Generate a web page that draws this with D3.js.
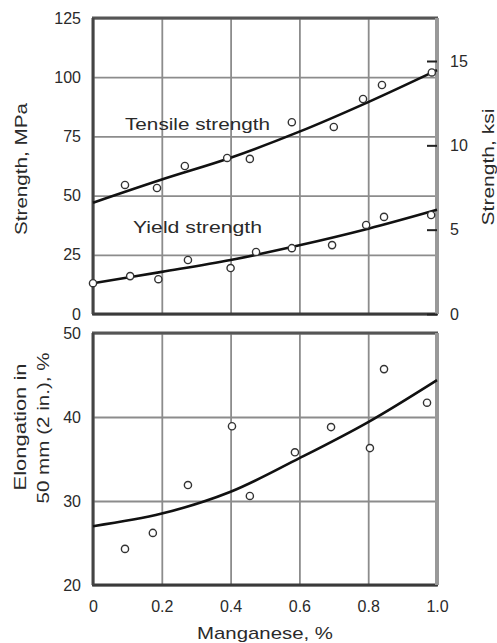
<!DOCTYPE html>
<html>
<head>
<meta charset="utf-8">
<script src="https://cdn.jsdelivr.net/npm/d3@7"></script>
<style>
  html, body { margin: 0; padding: 0; background: #fff; }
  svg { display: block; }
  text { font-family: "Liberation Sans", Arial, Helvetica, sans-serif; fill: #2a2a2a; }
</style>
</head>
<body>
<svg id="chart" width="497" height="643"></svg>
<script>
// ---- Data ----
const xTicks = [0, 0.2, 0.4, 0.6, 0.8, 1.0];
const xTickLabels = ["0", "0.2", "0.4", "0.6", "0.8", "1.0"];
const strengthTicks = [0, 25, 50, 75, 100, 125];
const ksiTicks = [0, 5, 10, 15];
const elongTicks = [20, 30, 40, 50];

// Tensile strength measurements (Mn %, MPa)
const tensileMn  = [0.093, 0.186, 0.267, 0.39, 0.456, 0.578, 0.70, 0.785, 0.84, 0.985];
const tensileMPa = [54.5, 53.2, 62.5, 65.9, 65.5, 81, 79, 90.8, 96.7, 102];
// Tensile fit curve
const tensileFitMn  = [0, 0.2, 0.4, 0.6, 0.8, 1.0];
const tensileFitMPa = [47, 56.8, 66, 77, 89.5, 103];

// Yield strength measurements
const yieldMn  = [0, 0.108, 0.19, 0.276, 0.40, 0.474, 0.578, 0.695, 0.794, 0.846, 0.983];
const yieldMPa = [13, 16, 14.7, 22.8, 19.4, 26.2, 27.8, 29.1, 37.6, 41, 41.8];
// Yield fit curve
const yieldFitMn  = [0, 0.2, 0.4, 0.6, 0.8, 1.0];
const yieldFitMPa = [13, 17.8, 22.8, 29, 36, 44];

// Elongation measurements
const elongMn  = [0.093, 0.174, 0.276, 0.404, 0.456, 0.587, 0.692, 0.805, 0.846, 0.971];
const elongPct = [24.3, 26.2, 31.9, 38.9, 30.6, 35.8, 38.8, 36.3, 45.7, 41.7];
// Elongation fit curve
const elongFitMn  = [0, 0.2, 0.4, 0.6, 0.8, 1.0];
const elongFitPct = [27.0, 28.5, 31.1, 35.1, 39.4, 44.4];

// ---- Layout ----
const L = 93, R = 437;
const topT = 18, topB = 314;
const botT = 333, botB = 585;

const svg = d3.select("#chart");

const x = d3.scaleLinear().domain([0, 1]).range([L, R]);
const yTop = d3.scaleLinear().domain([0, 125]).range([topB, topT]);
const yKsi = d3.scaleLinear().domain([0, 17.55]).range([topB, topT]);
const yBot = d3.scaleLinear().domain([20, 50]).range([botB, botT]);

const gridColor = "#8c8c8c";

function panel(yScale, yTicks, top, bottom) {
  // horizontal grid
  const gy = svg.append("g")
    .attr("transform", `translate(${L},0)`)
    .call(d3.axisLeft(yScale).tickValues(yTicks).tickSize(-(R - L)).tickFormat(""));
  gy.select(".domain").remove();
  gy.selectAll("line").attr("stroke", gridColor).attr("stroke-width", 1.8);
  // vertical grid
  const gx = svg.append("g")
    .attr("transform", `translate(0,${bottom})`)
    .call(d3.axisBottom(x).tickValues(xTicks).tickSize(-(bottom - top)).tickFormat(""));
  gx.select(".domain").remove();
  gx.selectAll("line").attr("stroke", gridColor).attr("stroke-width", 1.8);
  // frame
  svg.append("line").attr("x1", L - 1).attr("x2", R + 1).attr("y1", top).attr("y2", top)
    .attr("stroke", "#555").attr("stroke-width", 3);
  svg.append("line").attr("x1", L - 1).attr("x2", R + 1).attr("y1", bottom).attr("y2", bottom)
    .attr("stroke", "#3a3a3a").attr("stroke-width", 3);
  svg.append("line").attr("x1", L).attr("x2", L).attr("y1", top).attr("y2", bottom)
    .attr("stroke", "#444").attr("stroke-width", 3);
  svg.append("line").attr("x1", R).attr("x2", R).attr("y1", top).attr("y2", bottom)
    .attr("stroke", "#999").attr("stroke-width", 4);
  // left labels
  const al = svg.append("g")
    .attr("transform", `translate(${L},0)`)
    .call(d3.axisLeft(yScale).tickValues(yTicks).tickSize(0).tickPadding(12));
  al.select(".domain").remove();
  al.selectAll("text").style("font-size", "16px").attr("fill", "#2a2a2a");
}

panel(yTop, strengthTicks, topT, topB);
panel(yBot, elongTicks, botT, botB);

// right ksi axis
const ar = svg.append("g")
  .attr("transform", `translate(${R},0)`)
  .call(d3.axisRight(yKsi).tickValues(ksiTicks).tickSizeInner(-10).tickSizeOuter(0).tickPadding(13));
ar.select(".domain").remove();
ar.selectAll("line").attr("stroke", "#222").attr("stroke-width", 2);
ar.selectAll("text").style("font-size", "16px").attr("fill", "#2a2a2a");

// bottom x axis labels
const ax = svg.append("g")
  .attr("transform", `translate(0,${botB})`)
  .call(d3.axisBottom(x).tickValues(xTicks).tickSize(0).tickPadding(16)
    .tickFormat((d, i) => xTickLabels[i]));
ax.select(".domain").remove();
ax.selectAll("text").style("font-size", "16px").attr("fill", "#2a2a2a");

// curves
function fitLine(xs, ys, yScale) {
  const pts = xs.map((v, i) => [v, ys[i]]);
  svg.append("path")
    .datum(pts)
    .attr("fill", "none")
    .attr("stroke", "#111")
    .attr("stroke-width", 2.6)
    .attr("d", d3.line().x(d => x(d[0])).y(d => yScale(d[1])).curve(d3.curveCatmullRom)(pts));
}
function markers(xs, ys, yScale) {
  svg.append("g").selectAll("circle")
    .data(xs.map((v, i) => [v, ys[i]]))
    .join("circle")
    .attr("cx", d => x(d[0]))
    .attr("cy", d => yScale(d[1]))
    .attr("r", 3.6)
    .attr("fill", "#fff")
    .attr("stroke", "#333")
    .attr("stroke-width", 1.4);
}

fitLine(tensileFitMn, tensileFitMPa, yTop);
fitLine(yieldFitMn, yieldFitMPa, yTop);
fitLine(elongFitMn, elongFitPct, yBot);
markers(tensileMn, tensileMPa, yTop);
markers(yieldMn, yieldMPa, yTop);
markers(elongMn, elongPct, yBot);

// in-plot labels
svg.append("text").attr("x", 125).attr("y", 130)
  .attr("textLength", 145).attr("lengthAdjust", "spacingAndGlyphs")
  .style("font-size", "17px").text("Tensile strength");
svg.append("text").attr("x", 133).attr("y", 233)
  .attr("textLength", 129).attr("lengthAdjust", "spacingAndGlyphs")
  .style("font-size", "17px").text("Yield strength");

// axis titles
function vTitle(cx, cy, txt, len) {
  svg.append("text")
    .attr("transform", `translate(${cx},${cy}) rotate(-90)`)
    .attr("text-anchor", "middle")
    .attr("dy", "0.35em")
    .attr("textLength", len).attr("lengthAdjust", "spacingAndGlyphs")
    .style("font-size", "17px")
    .text(txt);
}
vTitle(21, 169, "Strength, MPa", 132);
vTitle(488, 167, "Strength, ksi", 117);
vTitle(20, 427, "Elongation in", 127);
vTitle(43, 428, "50 mm (2 in.), %", 151);

svg.append("text")
  .attr("x", 265).attr("y", 639)
  .attr("text-anchor", "middle")
  .attr("textLength", 136).attr("lengthAdjust", "spacingAndGlyphs")
  .style("font-size", "17px")
  .text("Manganese, %");
</script>
</body>
</html>
